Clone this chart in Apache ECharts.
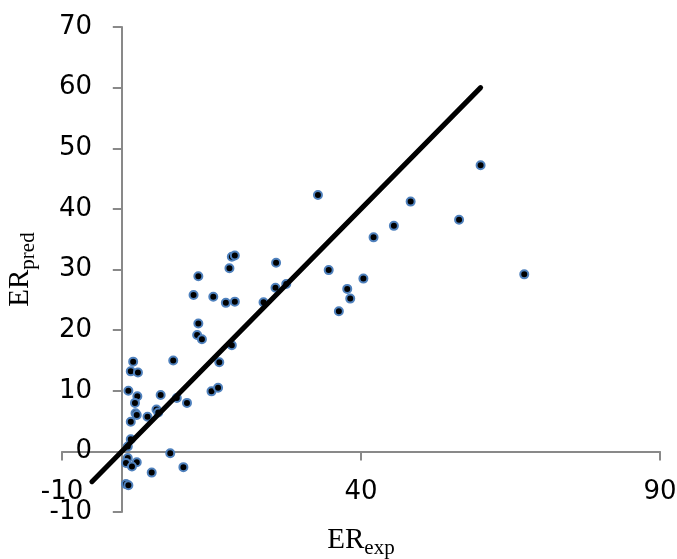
<!DOCTYPE html>
<html>
<head>
<meta charset="UTF-8">
<script src="https://cdn.jsdelivr.net/npm/echarts@6/dist/echarts.min.js"></script>
</head>
<body style="margin:0">
<div id="chart" style="width:677px;height:559px"></div>
<script>
// ER_exp (x) and ER_pred (y) of the scatter points
var erExp = [32.8, 60.0, 48.3, 45.5, 56.4, 42.1, 67.3, 25.8, 25.7, 27.5,
  23.7, 34.6, 40.4, 37.7, 38.2, 36.3, 18.4, 18.9, 18.0, 12.8,
  12.0, 15.3, 17.4, 18.9, 12.8, 12.6, 13.4, 18.4, 1.9, 1.5,
  2.7, 8.6, 16.3, 1.1, 2.6, 6.5, 9.2, 10.9, 15.0, 16.1,
  2.2, 2.3, 2.5, 1.5, 4.3, 5.8, 6.1, 1.5, 1.0, 1.0,
  0.7, 2.5, 1.7, 8.1, 10.3, 5.0, 0.7, 1.1];
var erPred = [42.3, 47.2, 41.2, 37.2, 38.2, 35.3, 29.2, 31.1, 27.0, 27.6,
  24.6, 29.9, 28.5, 26.8, 25.2, 23.1, 32.1, 32.3, 30.2, 28.9,
  25.8, 25.5, 24.5, 24.7, 21.1, 19.2, 18.5, 17.5, 14.8, 13.2,
  13.0, 15.0, 14.7, 10.0, 9.1, 9.3, 8.8, 8.0, 9.9, 10.5,
  8.0, 6.3, 6.0, 4.9, 5.7, 6.9, 6.4, 2.0, 0.8, -1.1,
  -1.9, -1.8, -2.5, -0.3, -2.6, -3.5, -5.4, -5.6];
// 1:1 line
var lineX = [-5, 60];
var lineY = [-5, 60];
var xTicks = [-10, 40, 90];

var chart = echarts.init(document.getElementById('chart'));

var points = erExp.map(function (v, i) { return [v, erPred[i]]; });
var lineData = lineX.map(function (v, i) { return [v, lineY[i]]; });

var axisGray = '#898989';
var labelFont = {fontFamily: 'DejaVu Sans', fontSize: 26, color: '#000'};
var titleRich = {
  a: {fontFamily: 'Liberation Serif', fontSize: 29, color: '#000'},
  b: {fontFamily: 'Liberation Serif', fontSize: 21, color: '#000', padding: [17, 0, 0, 0]}
};

chart.setOption({
  animation: false,
  backgroundColor: '#fff',
  grid: {left: 62, right: 17, top: 27, bottom: 47, containLabel: false, outerBoundsMode: 'none'},
  xAxis: {
    type: 'value', min: -10, max: 90, interval: 50,
    splitLine: {show: false},
    axisLine: {onZero: true, lineStyle: {color: axisGray, width: 2}},
    axisTick: {length: 9, lineStyle: {color: axisGray, width: 2}, customValues: xTicks},
    // labels sit at the grid edge, pulled up next to the zero line
    axisLabel: Object.assign({margin: -33, customValues: xTicks}, labelFont),
    name: '{a|ER}{b|exp}', nameLocation: 'middle', nameGap: 9, nameMoveOverlap: false,
    nameTextStyle: {rich: titleRich}
  },
  yAxis: {
    type: 'value', min: -10, max: 70, interval: 10,
    splitLine: {show: false},
    axisLine: {onZero: true, lineStyle: {color: axisGray, width: 2}},
    axisTick: {length: 9, lineStyle: {color: axisGray, width: 2}},
    axisLabel: Object.assign({margin: -30}, labelFont),
    name: '{a|ER}{b|pred}', nameLocation: 'middle', nameGap: 23, nameMoveOverlap: false,
    nameTextStyle: {rich: titleRich}
  },
  series: [
    {
      type: 'line', data: lineData, symbol: 'none', silent: true,
      lineStyle: {color: '#000', width: 5, cap: 'round'}
    },
    {
      type: 'scatter', data: points, symbolSize: 8,
      itemStyle: {color: '#000', borderColor: '#4F81BD', borderWidth: 2, opacity: 1}
    }
  ]
});
</script>
</body>
</html>
